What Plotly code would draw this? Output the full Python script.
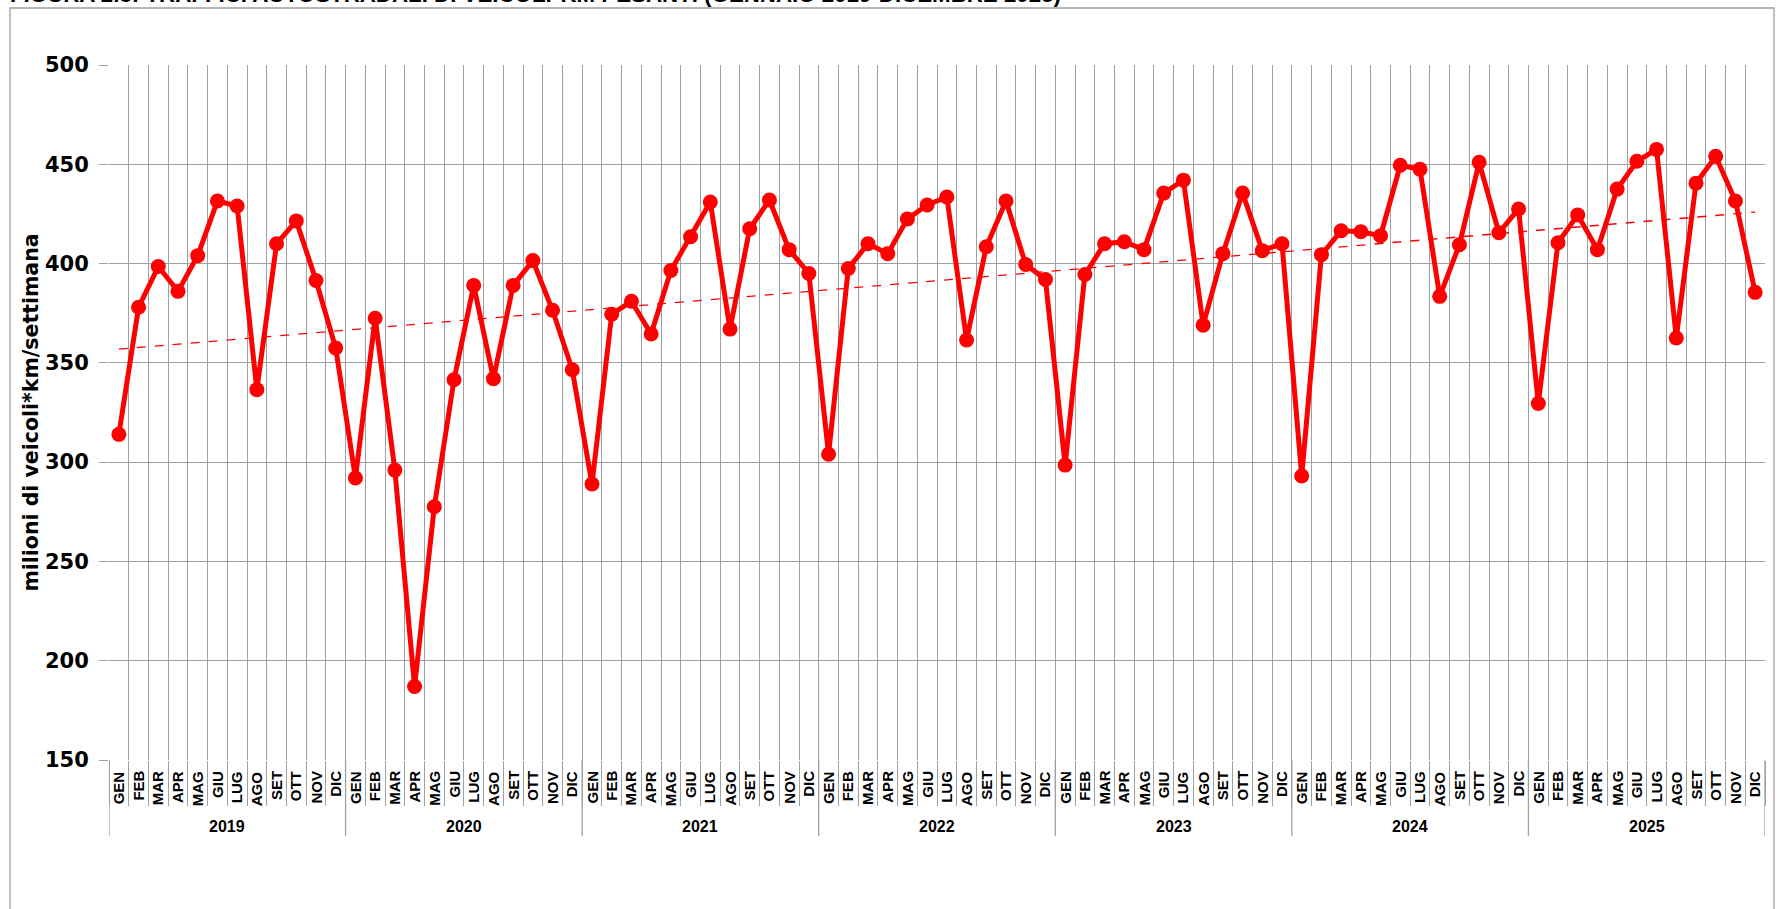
import numpy as np
import plotly.graph_objects as go

years = ["2019", "2020", "2021", "2022", "2023", "2024", "2025"]
months = ["GEN", "FEB", "MAR", "APR", "MAG", "GIU", "LUG", "AGO", "SET", "OTT", "NOV", "DIC"]

v2019 = [314, 378, 398.5, 386, 404, 431.5, 429, 336.5, 410, 421.5, 391.5, 357.5]
v2020 = [292, 372.5, 296, 187, 277.5, 341.5, 389, 342, 389, 401.5, 376.5, 346.5]
v2021 = [289, 374.5, 381, 364.5, 396.5, 413.5, 431, 367, 417.5, 432, 407, 395]
v2022 = [304, 397.5, 410, 405, 422.5, 429.5, 433.5, 361.5, 408.5, 431.5, 399.5, 392]
v2023 = [298.5, 394.5, 410, 411, 407, 435.5, 442, 369, 405, 435.5, 406.5, 410]
v2024 = [293, 404.5, 416.5, 416, 414, 449.5, 447.5, 383.5, 409.5, 451, 415.5, 427.5]
v2025 = [329.5, 410.5, 424.5, 407, 437.5, 451.5, 457.5, 362.5, 440.5, 454, 431.5, 385.5]

values = v2019 + v2020 + v2021 + v2022 + v2023 + v2024 + v2025
n_months = len(months)
n = len(values)
idx = np.arange(n)
month_labels = [m for _ in years for m in months]

slope, intercept = np.polyfit(idx, np.array(values), 1)
trend = slope * idx + intercept

RED = "#FF0000"
GRID = "#A0A0A0"
FONT = "DejaVu Sans"
LABFONT = "Liberation Sans"

W, H = 1782, 909
L, R, T, B = 109, 17, 65, 149
plot_w = W - L - R
plot_h = H - T - B


def py(px_below):
    """paper y for a distance in pixels below the plot bottom"""
    return -px_below / plot_h


fig = go.Figure()
fig.add_trace(go.Scatter(
    x=idx, y=values, mode="lines+markers",
    line=dict(color=RED, width=5), marker=dict(color=RED, size=15),
    showlegend=False, hoverinfo="skip", cliponaxis=False))
fig.add_trace(go.Scatter(
    x=idx, y=trend, mode="lines",
    line=dict(color=RED, width=1.3, dash="dash"),
    showlegend=False, hoverinfo="skip"))

boundaries = [i - 0.5 for i in range(n + 1)]

fig.update_layout(
    width=W, height=H,
    margin=dict(l=L, r=R, t=T, b=B, autoexpand=False),
    paper_bgcolor="white", plot_bgcolor="white",
    font=dict(family=FONT, color="black"),
    xaxis=dict(
        range=[-0.5, n - 0.5],
        tickmode="array", tickvals=boundaries, showticklabels=False,
        showgrid=True, gridcolor=GRID, gridwidth=1.3,
        ticks="outside", ticklen=45, tickcolor=GRID, tickwidth=1.3,
        showline=False, zeroline=False, automargin=False,
    ),
    yaxis=dict(
        range=[150, 500], dtick=50, tick0=150,
        showgrid=True, gridcolor=GRID, gridwidth=1.3,
        ticks="outside", ticklen=9, tickcolor=GRID, tickwidth=1.3,
        ticklabelstandoff=6,
        tickfont=dict(family=FONT, size=21, weight="bold", color="black"),
        title=dict(text="milioni di veicoli*km/settimana",
                   font=dict(family=FONT, size=20.5, weight="bold", color="black"),
                   standoff=0),
        showline=False, zeroline=False, automargin=False,
    ),
)

# month labels (rotated, top aligned under the axis)
for i, lab in zip(idx, month_labels):
    fig.add_annotation(
        x=int(i), xref="x", y=py(10), yref="paper",
        text=lab, textangle=-90, xanchor="center", yanchor="top",
        showarrow=False, borderpad=0,
        font=dict(family=LABFONT, size=15, weight="bold", color="black"))

# year labels and dividers
for k, yr in enumerate(years):
    fig.add_annotation(
        x=k * n_months + (n_months - 1) / 2, xref="x", y=py(66), yref="paper",
        text=yr, xanchor="center", yanchor="middle", showarrow=False,
        font=dict(family=LABFONT, size=16, weight="bold", color="black"))
for k in range(len(years) + 1):
    xb = k * n_months - 0.5
    fig.add_shape(type="line", xref="x", yref="paper", x0=xb, x1=xb,
                  y0=0, y1=py(76), line=dict(color=GRID, width=1.3))

fig.add_annotation(
    text="FIGURA 2.3: TRAFFICI AUTOSTRADALI DI VEICOLI*KM PESANTI (GENNAIO 2019-DICEMBRE 2025)",
    xref="paper", yref="paper", x=-(L - 8) / plot_w, xanchor="left",
    y=1 + (T + 5) / plot_h, yanchor="middle", showarrow=False,
    font=dict(family="Liberation Sans Narrow, Liberation Sans", size=22.3, weight="bold", color="black"))

fig.add_shape(type="rect", xref="paper", yref="paper",
              x0=-(L - 10) / plot_w, x1=1 + (1774 - (W - R)) / plot_w,
              y0=py(B + 20), y1=1 + (T - 8) / plot_h,
              line=dict(color=GRID, width=1.3), fillcolor="rgba(0,0,0,0)", layer="below")

fig.write_html(
    "out.html",
    config={"displayModeBar": False},
    post_script="document.body.style.margin='0';document.body.style.overflow='hidden';")
